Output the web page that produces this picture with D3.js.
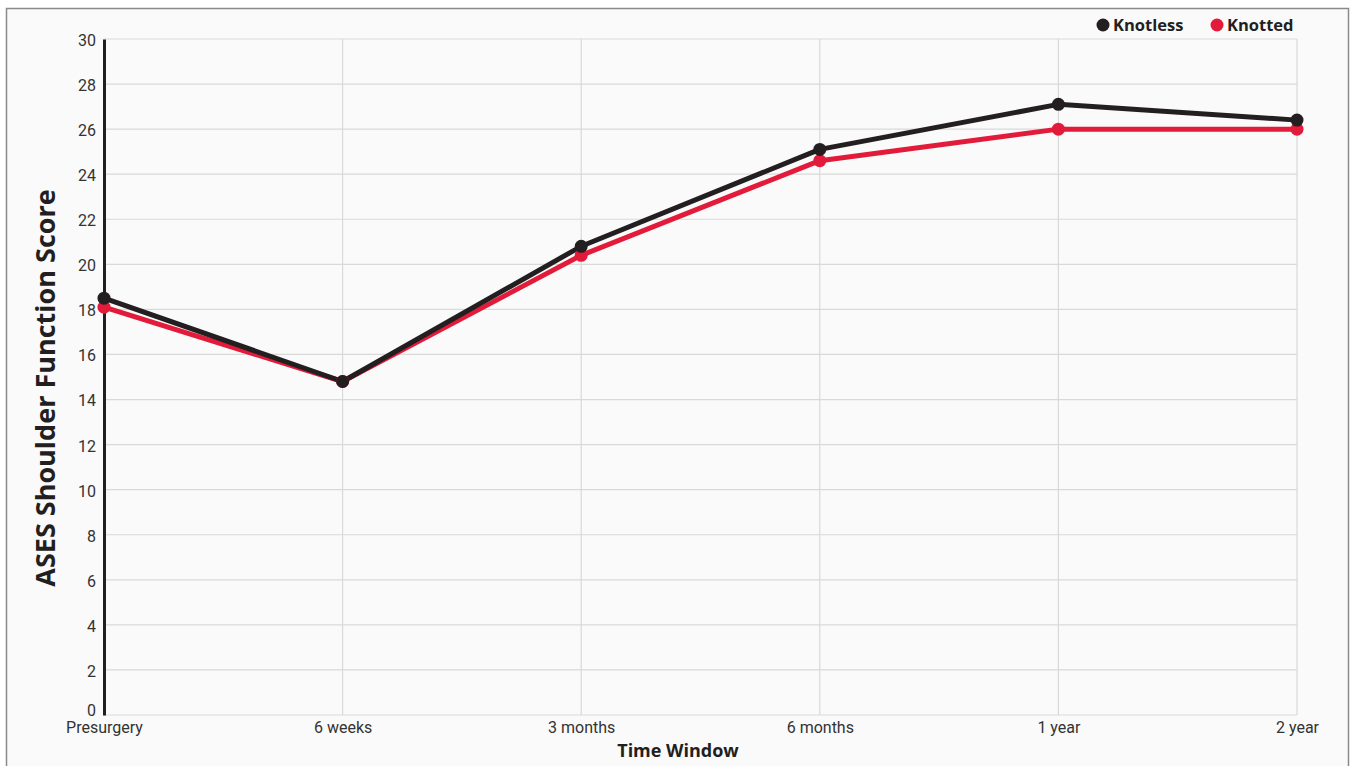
<!DOCTYPE html>
<html>
<head>
<meta charset="utf-8">
<script src="https://cdn.jsdelivr.net/npm/d3@7"></script>
<style>
  html, body { margin: 0; padding: 0; background: #fff; }
  #chart { position: absolute; left: 0; top: 0; }
</style>
</head>
<body>
<div id="chart"></div>
<script>
// données
const categories = ["Presurgery", "6 weeks", "3 months", "6 months", "1 year", "2 year"];
const knotless = [18.5, 14.8, 20.8, 25.1, 27.1, 26.4];
const knotted = [18.1, 14.8, 20.4, 24.6, 26.0, 26.0];
const yTicks = [0, 2, 4, 6, 8, 10, 12, 14, 16, 18, 20, 22, 24, 26, 28, 30];
const seriesNames = ["Knotless", "Knotted"];

const width = 1352;
const height = 766;
const margin = {top: 39, right: 55, bottom: 51, left: 104};
const colors = {Knotless: "#231f20", Knotted: "#e31b3b"};

const svg = d3.select("#chart").append("svg")
  .attr("width", width)
  .attr("height", height);

// cadre
svg.append("rect")
  .attr("x", 6.5).attr("y", 8.5)
  .attr("width", 1342).attr("height", 770)
  .attr("fill", "#fafafa")
  .attr("stroke", "#8a8a8a")
  .attr("stroke-width", 1.5);

const x = d3.scalePoint()
  .domain(categories)
  .range([margin.left, width - margin.right]);

const y = d3.scaleLinear()
  .domain([0, 30])
  .range([height - margin.bottom, margin.top]);

// grille horizontale
svg.append("g")
  .selectAll("line")
  .data(yTicks)
  .join("line")
  .attr("x1", margin.left).attr("x2", width - margin.right)
  .attr("y1", d => y(d)).attr("y2", d => y(d))
  .attr("stroke", "#d9d9d9")
  .attr("stroke-width", 1.2);

// grille verticale
svg.append("g")
  .selectAll("line")
  .data(categories.slice(1))
  .join("line")
  .attr("x1", d => x(d)).attr("x2", d => x(d))
  .attr("y1", y(30)).attr("y2", y(0))
  .attr("stroke", "#d9d9d9")
  .attr("stroke-width", 1.2);

// axe Y
const yAxis = svg.append("g")
  .attr("transform", `translate(${margin.left},0)`)
  .call(d3.axisLeft(y).tickValues(yTicks).tickSize(0).tickPadding(8));
yAxis.select(".domain").attr("stroke", "#231f20").attr("stroke-width", 3);
yAxis.selectAll("text")
  .attr("font-family", "Roboto, sans-serif")
  .attr("font-size", 16)
  .attr("dy", d => d === 0 ? "0em" : "0.4em")
  .attr("fill", "#333");

// axe X
const xAxis = svg.append("g")
  .attr("transform", `translate(0,${y(0)})`)
  .call(d3.axisBottom(x).tickSize(0).tickPadding(7));
xAxis.select(".domain").remove();
xAxis.selectAll("text")
  .attr("font-family", "Roboto, sans-serif")
  .attr("font-size", 16)
  .attr("fill", "#333");

// titres
svg.append("text")
  .attr("transform", `translate(55,388) rotate(-90)`)
  .attr("text-anchor", "middle")
  .attr("font-family", "'Open Sans', sans-serif")
  .attr("font-weight", "bold")
  .attr("font-size", 27)
  .attr("fill", "#231f20")
  .text("ASES Shoulder Function Score");

svg.append("text")
  .attr("x", 678)
  .attr("y", 757)
  .attr("text-anchor", "middle")
  .attr("font-family", "'Open Sans', sans-serif")
  .attr("font-weight", "bold")
  .attr("font-size", 18)
  .attr("fill", "#231f20")
  .text("Time Window");

// lignes
const line = d3.line()
  .x((d, i) => x(categories[i]))
  .y(d => y(d));

const series = [
  {name: "Knotted", values: knotted},
  {name: "Knotless", values: knotless}
];

series.forEach(s => {
  svg.append("path")
    .datum(s.values)
    .attr("fill", "none")
    .attr("stroke", colors[s.name])
    .attr("stroke-width", 5)
    .attr("stroke-linejoin", "round")
    .attr("d", line);
});

series.forEach(s => {
  svg.append("g")
    .selectAll("circle")
    .data(s.values)
    .join("circle")
    .attr("cx", (d, i) => x(categories[i]))
    .attr("cy", d => y(d))
    .attr("r", 6.5)
    .attr("fill", colors[s.name]);
});

// légende
const legendX = [1103, 1217];
const legend = svg.append("g")
  .selectAll("g")
  .data(seriesNames)
  .join("g")
  .attr("transform", (d, i) => `translate(${legendX[i]},25)`);
legend.append("circle")
  .attr("r", 6.5)
  .attr("fill", d => colors[d]);
legend.append("text")
  .attr("x", 10)
  .attr("dy", "0.35em")
  .attr("font-family", "'Open Sans', sans-serif")
  .attr("font-weight", "bold")
  .attr("font-size", 16.5)
  .attr("fill", "#231f20")
  .text(d => d);
</script>
</body>
</html>
